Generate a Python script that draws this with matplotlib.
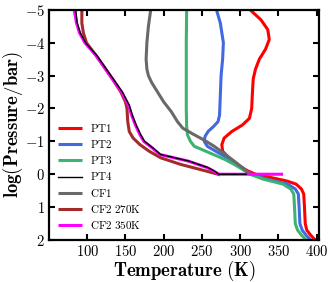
import numpy as np
import matplotlib
matplotlib.use('Agg')
from matplotlib import pyplot as plt
from matplotlib.ticker import FuncFormatter

plt.rcParams['mathtext.fontset'] = 'cm'
plt.rcParams['font.family'] = 'serif'

# Temperature (K) vs log10(P/bar) profiles
pt1_logp = [-5, -4.7, -4.4, -4.1, -3.8, -3.5, -3.2, -2.9, -2.5, -2.0, -1.7, -1.5,
            -1.3, -1.1, -0.9, -0.7, -0.5, -0.3, -0.1, 0.0, 0.1, 0.2, 0.3, 0.45,
            0.6, 1.0, 1.5, 1.7, 1.85, 2.0]
pt1_t = [313, 327, 336, 338, 333, 325, 320, 317, 316, 315, 312, 303,
         289, 279, 276, 277, 285, 295, 310, 320, 340, 360, 373, 380,
         383, 384, 385, 387, 392, 398]

pt2_logp = [-5, -4.6, -4.0, -3.5, -3.0, -2.4, -1.8, -1.6, -1.45, -1.3, -1.15, -1.0,
            -0.85, -0.7, -0.5, -0.3, -0.15, 0.0, 0.15, 0.3, 0.45, 0.6, 1.0, 1.5,
            1.7, 1.85, 2.0]
pt2_t = [269, 274, 278, 277, 275, 274, 273, 271, 265, 258, 254, 253,
         257, 268, 283, 295, 304, 314, 335, 362, 372, 376, 377, 378,
         381, 386, 392]

pt3_logp = [-5, -4.0, -3.0, -2.0, -1.45, -1.2, -1.0, -0.85, -0.75, -0.6, -0.45, -0.3,
            -0.15, 0.0, 0.15, 0.3, 0.45, 0.6, 1.0, 1.5, 1.7, 1.85, 2.0]
pt3_t = [230, 229.5, 229.5, 229.5, 230, 231, 235, 240, 250, 265, 280, 292,
         303, 313, 330, 356, 366, 370, 371, 372, 375, 380, 386]

pt4_logp = [-5, -4.6, -4.3, -4.0, -3.6, -3.3, -2.9, -2.5, -2.1, -1.8, -1.5, -1.2,
            -1.0, -0.8, -0.6, -0.4, -0.2, -0.1, 0.0, 0.0]
pt4_t = [85, 87, 91, 98, 113, 122, 134, 146, 155, 159, 164, 170,
         175, 186, 196, 233, 258, 266, 272, 308]

cf1_logp = [-5, -4.5, -4.0, -3.5, -3.2, -3.0, -2.8, -2.5, -2.2, -1.9, -1.6, -1.4,
            -1.2, -1.05, -0.85, -0.65, -0.4, -0.2, 0.0]
cf1_t = [183, 180, 178, 177, 178, 180, 184, 192, 200, 210, 218, 225,
         240, 252, 266, 278, 292, 303, 313]

cf2a_logp = [-5, -4.6, -4.3, -4.0, -3.6, -3.3, -2.9, -2.5, -2.2, -2.0, -1.6, -1.3,
             -1.1, -0.9, -0.7, -0.5, -0.3, -0.1, 0.02]
cf2a_t = [93, 93, 95, 99, 112, 121, 133, 144, 150, 152, 153, 155,
          160, 169, 181, 196, 222, 255, 274]

cf2b_logp = [-5, -4.6, -4.3, -4.0, -3.6, -3.3, -2.9, -2.5, -2.1, -1.8, -1.5, -1.2,
             -1.0, -0.8, -0.6, -0.4, -0.2, -0.1, 0.0, 0.0]
cf2b_t = [83, 86, 90, 97, 112, 121, 133, 145, 154, 158, 163, 169,
          174, 185, 195, 232, 257, 265, 272, 356]

fig = plt.figure(figsize=(3.33, 2.82), dpi=100)
ax = fig.add_axes([0.147, 0.149, 0.811, 0.816])

kw = dict(lw=2.2, solid_joinstyle='round', solid_capstyle='butt')
ax.plot(pt1_t, pt1_logp, color='red', label=r'$\mathrm{PT1}$', **kw)
ax.plot(pt2_t, pt2_logp, color='royalblue', label=r'$\mathrm{PT2}$', **kw)
ax.plot(pt3_t, pt3_logp, color='mediumseagreen', label=r'$\mathrm{PT3}$', **kw)
ax.plot(pt4_t, pt4_logp, color='black', lw=1.0, label=r'$\mathrm{PT4}$', zorder=5)
ax.plot(cf1_t, cf1_logp, color='dimgray', label=r'$\mathrm{CF1}$', **kw)
ax.plot(cf2a_t, cf2a_logp, color='brown', label=r'$\mathrm{CF2\ 270K}$', **kw)
ax.plot(cf2b_t, cf2b_logp, color='magenta', label=r'$\mathrm{CF2\ 350K}$', **kw)

ax.set_xlim(50, 403)
ax.set_ylim(2, -5)
ax.set_xticks([100, 150, 200, 250, 300, 350, 400])
ax.set_yticks(np.arange(-5, 3))
fmt = FuncFormatter(lambda v, p: r'$%d$' % v)
ax.xaxis.set_major_formatter(fmt)
ax.yaxis.set_major_formatter(fmt)
ax.tick_params(direction='in', top=True, right=True, width=1.5, length=4,
               labelsize=10.5, pad=3)
for s in ax.spines.values():
    s.set_linewidth(1.6)

ax.set_xlabel(r'$\mathbf{Temperature\ (K)}$', fontsize=13.5, labelpad=0)
ax.set_ylabel(r'$\mathbf{log(Pressure/bar)}$', fontsize=13.5, labelpad=0)

ax.legend(loc='lower left', frameon=False, fontsize=8, handlelength=2.2,
          labelspacing=0.38, borderaxespad=0.4, handletextpad=0.7)

fig.savefig('out.png', dpi=100)
